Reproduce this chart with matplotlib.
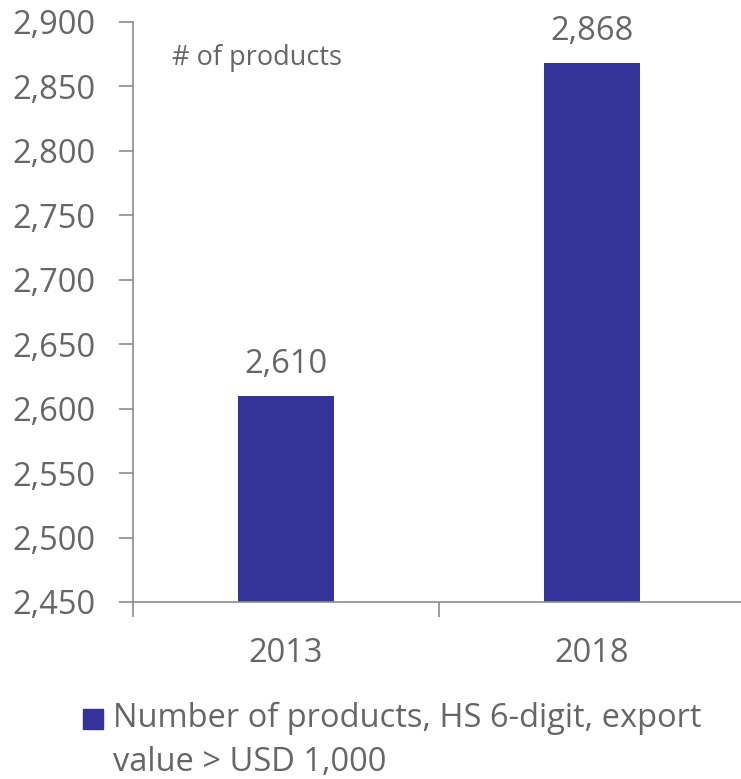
import matplotlib
matplotlib.use("Agg")
import matplotlib.pyplot as plt
from matplotlib.patches import Rectangle

years = ["2013", "2018"]
products = [2610, 2868]
y_ticks = [2450, 2500, 2550, 2600, 2650, 2700, 2750, 2800, 2850, 2900]
series_label = "Number of products, HS 6-digit, export\nvalue > USD 1,000"
unit_label = "# of products"

bar_color = "#333399"
text_color = "#666666"
axis_color = "#8c8c8c"

plt.rcParams["font.family"] = ["Open Sans", "DejaVu Sans"]

W, H = 741, 779
fig = plt.figure(figsize=(W / 100, H / 100), dpi=100)
ax = fig.add_axes([133 / W, (H - 602) / H, 612 / W, 580 / H])

x = range(len(years))
ax.bar(x, products, width=0.314, color=bar_color, zorder=2)
ax.set_xlim(-0.5, len(years) - 0.5)
ax.set_ylim(y_ticks[0], y_ticks[-1])
ax.set_yticks(y_ticks)
ax.set_yticklabels([f"{v:,}" for v in y_ticks])
ax.tick_params(axis="y", direction="out", length=10, width=1.2, color=axis_color,
               labelsize=23.5, labelcolor=text_color, pad=17)

# category labels centred, tick marks at category boundaries
ax.set_xticks([i - 0.5 for i in range(len(years) + 1)])
ax.set_xticklabels([])
ax.tick_params(axis="x", direction="out", length=11, width=1.2, color=axis_color)
for i, yr in enumerate(years):
    ax.text(i, -0.088, yr, transform=ax.get_xaxis_transform(), ha="center", va="center",
            fontsize=23.5, color=text_color)

for s in ["top", "right"]:
    ax.spines[s].set_visible(False)
for s in ["left", "bottom"]:
    ax.spines[s].set_color(axis_color)
    ax.spines[s].set_linewidth(1.2)

for i, v in enumerate(products):
    ax.annotate(f"{v:,}", (i, v), xytext=(0, 11), textcoords="offset points",
                ha="center", va="bottom", fontsize=23.5, color=text_color)

ax.text(172 / W, (H - 58) / H, unit_label, transform=fig.transFigure, ha="left",
        va="center", fontsize=19.5, color=text_color)

# legend
fig.patches.append(Rectangle((83 / W, (H - 729) / H), 20 / W, 20 / H,
                             transform=fig.transFigure, color=bar_color))
fig.text(113 / W, (H - 702) / H, series_label, ha="left", va="top", fontsize=23.5,
         color=text_color, linespacing=1.42)

fig.savefig("out.png", dpi=100)
